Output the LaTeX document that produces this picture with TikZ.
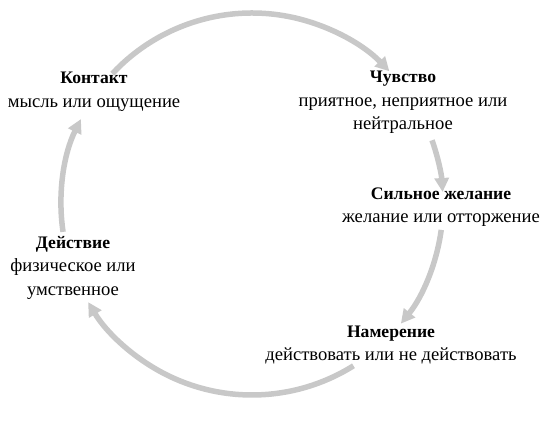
\documentclass[tikz,border=0pt]{standalone}
\usepackage{fontspec}
\setmainfont{Liberation Serif}
\usetikzlibrary{arrows.meta,calc}
\definecolor{cyclegray}{RGB}{200,200,200}
\newcommand{\hd}[1]{{\fontsize{17.6}{23.5}\selectfont\bfseries #1}}
\tikzset{
  lbl/.style={align=center,inner sep=0pt,font=\fontsize{18.6}{23.5}\selectfont},
  cyc/.style={draw=cyclegray,line width=5.5pt,-{Triangle[length=14pt,width=14pt]}}
}
\begin{document}
\begin{tikzpicture}[x=1pt,y=1pt]
\useasboundingbox (0,0) rectangle (552,428);
\coordinate (c) at (252,224);
\def\R{191}
\node[lbl] (kontakt) at (94,336) {\hd{Контакт}\\мысль или ощущение};
\node[lbl] (chuvstvo) at (403,325.5) {\hd{Чувство}\\приятное, неприятное или\\нейтральное};
\node[lbl] (zhelanie) at (441,221) {\hd{Сильное желание}\\желание или отторжение};
\node[lbl] (namerenie) at (391,83) {\hd{Намерение}\\действовать или не действовать};
\node[lbl] (deystvie) at (73,160.5) {\hd{Действие}\\физическое или\\умственное};
\coordinate (s1) at ($(c)+(137:\R)$);
\coordinate (s2) at ($(c)+(19.5:\R)$);
\coordinate (s3) at ($(c)+(-7.8:\R)$);
\coordinate (s4) at ($(c)+(-57.9:\R)$);
\coordinate (s5) at ($(c)+(188.4:\R)$);
\draw[cyc] (s1) arc[start angle=137,end angle=44,radius=\R];
\draw[cyc] (s2) arc[start angle=19.5,end angle=3.6,radius=\R];
\draw[cyc] (s3) arc[start angle=-7.8,end angle=-38.8,radius=\R];
\draw[cyc] (s4) arc[start angle=-57.9,end angle=-149.1,radius=\R];
\draw[cyc] (s5) arc[start angle=188.4,end angle=153.6,radius=\R];
\end{tikzpicture}
\end{document}
